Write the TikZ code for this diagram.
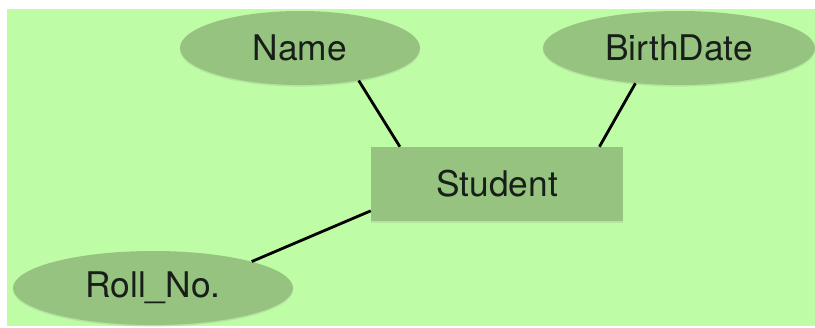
\documentclass[tikz,border=0pt]{standalone}
\usepackage{fontspec}
\setmainfont{TeX Gyre Heros}
\usepackage{tikz}
\usetikzlibrary{shapes.geometric}
\usetikzlibrary{shadows}
\definecolor{lawn}{RGB}{191, 252, 166}
\definecolor{sage}{RGB}{150, 196, 128}
\definecolor{ink}{RGB}{24, 30, 24}
\tikzset{
    attrib/.style={ellipse, fill=sage, inner sep=0pt, minimum height=55.5pt,
                   text=ink, font=\fontsize{26.5}{30}\selectfont,
                   drop shadow={opacity=0.18, shadow xshift=0pt, shadow yshift=-1.2pt}},
    entity/.style={rectangle, fill=sage, inner sep=0pt, minimum width=189pt, minimum height=55.5pt,
                   text=ink, font=\fontsize{26.5}{30}\selectfont,
                   drop shadow={opacity=0.18, shadow xshift=0pt, shadow yshift=-1.2pt}},
    link/.style={black, line width=2.1pt}
}
\begin{document}
\begin{tikzpicture}[x=0.75pt, y=-0.75pt]
            % Frame & background
            \useasboundingbox                                  (0, 0) rectangle (815, 328);
            \fill[white]                                       (0, 0) rectangle (815, 328);
            \fill[lawn]                                        (7, 9) rectangle (815, 326);
            % Entity
            \node[entity]                     (student)   at (497, 184) {Student};
            % Attributes
            \node[attrib, minimum width=180pt] (name)      at (300,  48) {Name};
            \node[attrib, minimum width=204pt] (birthdate) at (679,  48) {BirthDate};
            \node[attrib, minimum width=210pt] (rollno)    at (153, 288) {Roll\_No.};
            % Links
            \draw[link] (name.-29)       -- (student.159.5);
            \draw[link] (birthdate.219)  -- (student.20.3);
            \draw[link] (rollno.15.1)    -- (student.192.1);
        \end{tikzpicture}
\end{document}
